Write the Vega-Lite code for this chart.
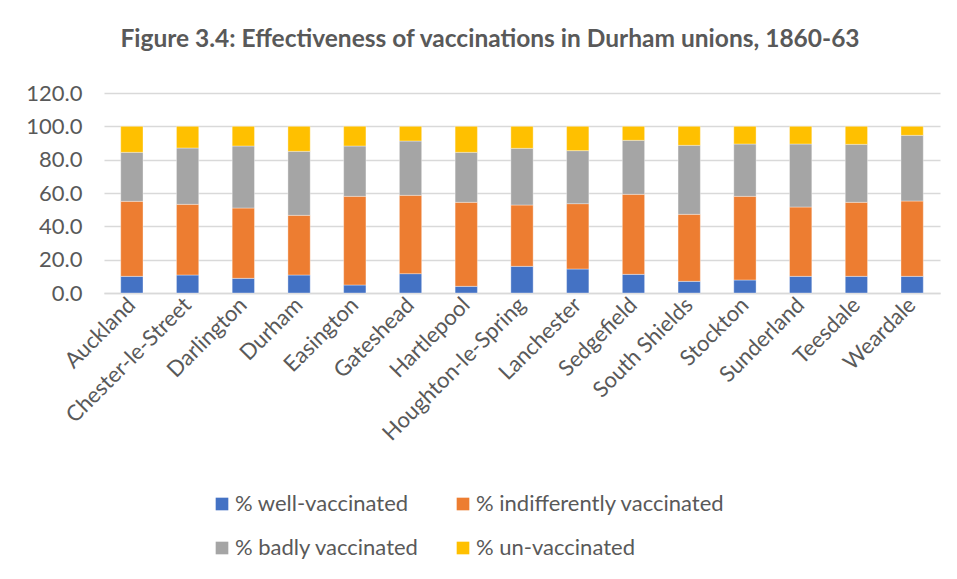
{
  "$schema": "https://vega.github.io/schema/vega-lite/v6.json",
  "width": 836,
  "height": 200,
  "autosize": "none",
  "padding": {"left": 104, "top": 93, "right": 17, "bottom": 286},
  "background": "white",
  "title": {
    "text": "Figure 3.4: Effectiveness of vaccinations in Durham unions, 1860-63",
    "font": "Lato",
    "fontSize": 24.5,
    "fontWeight": "bold",
    "color": "#595959",
    "anchor": "middle",
    "dx": -32,
    "offset": 30
  },
  "datasets": {
    "rows": [
      {"union": "Auckland", "cat": "% well-vaccinated", "o": 1, "v": 10.0},
      {"union": "Auckland", "cat": "% indifferently vaccinated", "o": 2, "v": 45.0},
      {"union": "Auckland", "cat": "% badly vaccinated", "o": 3, "v": 29.4},
      {"union": "Auckland", "cat": "% un-vaccinated", "o": 4, "v": 15.6},
      {"union": "Chester-le-Street", "cat": "% well-vaccinated", "o": 1, "v": 10.8},
      {"union": "Chester-le-Street", "cat": "% indifferently vaccinated", "o": 2, "v": 42.4},
      {"union": "Chester-le-Street", "cat": "% badly vaccinated", "o": 3, "v": 33.8},
      {"union": "Chester-le-Street", "cat": "% un-vaccinated", "o": 4, "v": 13.0},
      {"union": "Darlington", "cat": "% well-vaccinated", "o": 1, "v": 8.8},
      {"union": "Darlington", "cat": "% indifferently vaccinated", "o": 2, "v": 42.2},
      {"union": "Darlington", "cat": "% badly vaccinated", "o": 3, "v": 37.2},
      {"union": "Darlington", "cat": "% un-vaccinated", "o": 4, "v": 11.8},
      {"union": "Durham", "cat": "% well-vaccinated", "o": 1, "v": 10.8},
      {"union": "Durham", "cat": "% indifferently vaccinated", "o": 2, "v": 35.8},
      {"union": "Durham", "cat": "% badly vaccinated", "o": 3, "v": 38.4},
      {"union": "Durham", "cat": "% un-vaccinated", "o": 4, "v": 15.0},
      {"union": "Easington", "cat": "% well-vaccinated", "o": 1, "v": 4.8},
      {"union": "Easington", "cat": "% indifferently vaccinated", "o": 2, "v": 53.2},
      {"union": "Easington", "cat": "% badly vaccinated", "o": 3, "v": 30.2},
      {"union": "Easington", "cat": "% un-vaccinated", "o": 4, "v": 11.8},
      {"union": "Gateshead", "cat": "% well-vaccinated", "o": 1, "v": 11.6},
      {"union": "Gateshead", "cat": "% indifferently vaccinated", "o": 2, "v": 47.0},
      {"union": "Gateshead", "cat": "% badly vaccinated", "o": 3, "v": 32.6},
      {"union": "Gateshead", "cat": "% un-vaccinated", "o": 4, "v": 8.8},
      {"union": "Hartlepool", "cat": "% well-vaccinated", "o": 1, "v": 4.0},
      {"union": "Hartlepool", "cat": "% indifferently vaccinated", "o": 2, "v": 50.4},
      {"union": "Hartlepool", "cat": "% badly vaccinated", "o": 3, "v": 30.0},
      {"union": "Hartlepool", "cat": "% un-vaccinated", "o": 4, "v": 15.6},
      {"union": "Houghton-le-Spring", "cat": "% well-vaccinated", "o": 1, "v": 16.0},
      {"union": "Houghton-le-Spring", "cat": "% indifferently vaccinated", "o": 2, "v": 36.8},
      {"union": "Houghton-le-Spring", "cat": "% badly vaccinated", "o": 3, "v": 34.0},
      {"union": "Houghton-le-Spring", "cat": "% un-vaccinated", "o": 4, "v": 13.2},
      {"union": "Lanchester", "cat": "% well-vaccinated", "o": 1, "v": 14.4},
      {"union": "Lanchester", "cat": "% indifferently vaccinated", "o": 2, "v": 39.2},
      {"union": "Lanchester", "cat": "% badly vaccinated", "o": 3, "v": 31.8},
      {"union": "Lanchester", "cat": "% un-vaccinated", "o": 4, "v": 14.6},
      {"union": "Sedgefield", "cat": "% well-vaccinated", "o": 1, "v": 11.2},
      {"union": "Sedgefield", "cat": "% indifferently vaccinated", "o": 2, "v": 48.0},
      {"union": "Sedgefield", "cat": "% badly vaccinated", "o": 3, "v": 32.4},
      {"union": "Sedgefield", "cat": "% un-vaccinated", "o": 4, "v": 8.4},
      {"union": "South Shields", "cat": "% well-vaccinated", "o": 1, "v": 7.0},
      {"union": "South Shields", "cat": "% indifferently vaccinated", "o": 2, "v": 40.2},
      {"union": "South Shields", "cat": "% badly vaccinated", "o": 3, "v": 41.4},
      {"union": "South Shields", "cat": "% un-vaccinated", "o": 4, "v": 11.4},
      {"union": "Stockton", "cat": "% well-vaccinated", "o": 1, "v": 7.8},
      {"union": "Stockton", "cat": "% indifferently vaccinated", "o": 2, "v": 50.2},
      {"union": "Stockton", "cat": "% badly vaccinated", "o": 3, "v": 31.4},
      {"union": "Stockton", "cat": "% un-vaccinated", "o": 4, "v": 10.6},
      {"union": "Sunderland", "cat": "% well-vaccinated", "o": 1, "v": 10.0},
      {"union": "Sunderland", "cat": "% indifferently vaccinated", "o": 2, "v": 41.6},
      {"union": "Sunderland", "cat": "% badly vaccinated", "o": 3, "v": 37.8},
      {"union": "Sunderland", "cat": "% un-vaccinated", "o": 4, "v": 10.6},
      {"union": "Teesdale", "cat": "% well-vaccinated", "o": 1, "v": 10.0},
      {"union": "Teesdale", "cat": "% indifferently vaccinated", "o": 2, "v": 44.4},
      {"union": "Teesdale", "cat": "% badly vaccinated", "o": 3, "v": 34.8},
      {"union": "Teesdale", "cat": "% un-vaccinated", "o": 4, "v": 10.8},
      {"union": "Weardale", "cat": "% well-vaccinated", "o": 1, "v": 10.0},
      {"union": "Weardale", "cat": "% indifferently vaccinated", "o": 2, "v": 45.2},
      {"union": "Weardale", "cat": "% badly vaccinated", "o": 3, "v": 39.4},
      {"union": "Weardale", "cat": "% un-vaccinated", "o": 4, "v": 5.4}
    ]
  },
  "data": {"name": "rows"},
  "mark": {"type": "bar", "stroke": "white", "strokeWidth": 0.6, "strokeOpacity": 0.6},
  "encoding": {
    "x": {
      "field": "union",
      "type": "nominal",
      "sort": null,
      "title": null,
      "scale": {"paddingInner": 0.6, "paddingOuter": 0.3},
      "axis": {
        "labelAngle": -45,
        "labelAlign": "right",
        "labelBaseline": "middle",
        "labelFont": "Lato",
        "labelFontSize": 22,
        "labelColor": "#595959",
        "labelPadding": 8,
        "labelLimit": 300,
        "ticks": false,
        "domain": true,
        "domainColor": "#d9d9d9",
        "domainWidth": 1.5
      }
    },
    "y": {
      "field": "v",
      "type": "quantitative",
      "stack": "zero",
      "title": null,
      "scale": {"domain": [0, 120], "nice": false},
      "axis": {
        "values": [0, 20, 40, 60, 80, 100, 120],
        "format": ".1f",
        "labelFont": "Lato",
        "labelFontSize": 22,
        "labelColor": "#595959",
        "labelPadding": 22,
        "ticks": false,
        "domain": false,
        "gridColor": "#d9d9d9",
        "gridWidth": 1.5
      }
    },
    "color": {
      "field": "cat",
      "type": "nominal",
      "scale": {
        "domain": ["% well-vaccinated", "% indifferently vaccinated", "% badly vaccinated", "% un-vaccinated"],
        "range": ["#4472C4", "#ED7D31", "#A5A5A5", "#FFC000"]
      },
      "legend": {
        "title": null,
        "orient": "none",
        "direction": "horizontal",
        "legendX": 107,
        "legendY": 400,
        "columns": 2,
        "columnPadding": 33,
        "rowPadding": 22,
        "symbolType": "square",
        "symbolSize": 160,
        "symbolStrokeWidth": 0,
        "labelFont": "Lato",
        "labelFontSize": 22,
        "labelColor": "#595959",
        "labelOffset": 2,
        "labelLimit": 400
      }
    },
    "order": {"field": "o", "type": "quantitative"}
  },
  "config": {
    "view": {"stroke": null}
  }
}
